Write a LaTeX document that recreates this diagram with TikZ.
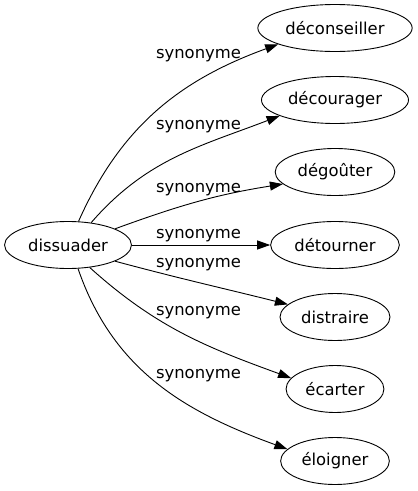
\documentclass[tikz,border=0pt]{standalone}
\usepackage{fontspec}
\setmainfont{DejaVu Sans}
\usetikzlibrary{shapes.geometric, arrows.meta}

\begin{document}
\begin{tikzpicture}[x=1pt,y=1pt,font=\fontsize{16.4}{20}\selectfont]
  \tikzstyle{every node}+=[inner sep=0pt]
  \tikzstyle{word}=[draw=black, line width=0.9pt, ellipse, inner xsep=5pt, minimum height=47pt]
  \tikzstyle{link}=[black, line width=0.9pt, -{Triangle[length=13pt,width=9pt]}]
  \useasboundingbox (0,0) rectangle (418,-491);
  \draw (68,-245) node [word] (dissuader) {dissuader};
  \draw (335,-28) node [word] (deconseiller) {déconseiller};
  \draw (335,-100) node [word] (decourager) {décourager};
  \draw (335,-172) node [word] (degouter) {dégoûter};
  \draw (335,-245) node [word] (detourner) {détourner};
  \draw (335,-317) node [word] (distraire) {distraire};
  \draw (335,-389) node [word] (ecarter) {écarter};
  \draw (335,-461) node [word] (eloigner) {éloigner};
  \draw [link] (dissuader.66) to [out=66,in=200] (deconseiller.196);
  \draw (198.5,-58) node [anchor=base] (syn1) {synonyme};
  \draw [link] (dissuader.44) to [out=49,in=201] (decourager.196);
  \draw (198.5,-129) node [anchor=base] (syn2) {synonyme};
  \draw [link] (dissuader.19) to [out=20,in=189] (degouter.193);
  \draw (198.5,-192) node [anchor=base] (syn3) {synonyme};
  \draw [link] (dissuader) -- (detourner);
  \draw (198.5,-238.5) node [anchor=base] (syn4) {synonyme};
  \draw [link] (dissuader.-19) to [out=-15,in=166] (distraire.165);
  \draw (198.5,-267.5) node [anchor=base] (syn5) {synonyme};
  \draw [link] (dissuader.-46) to [out=-42,in=160] (ecarter.166);
  \draw (198.5,-315) node [anchor=base] (syn6) {synonyme};
  \draw [link] (dissuader.-67) to [out=-71,in=160] (eloigner.166);
  \draw (198.5,-378.5) node [anchor=base] (syn7) {synonyme};
\end{tikzpicture}
\end{document}
